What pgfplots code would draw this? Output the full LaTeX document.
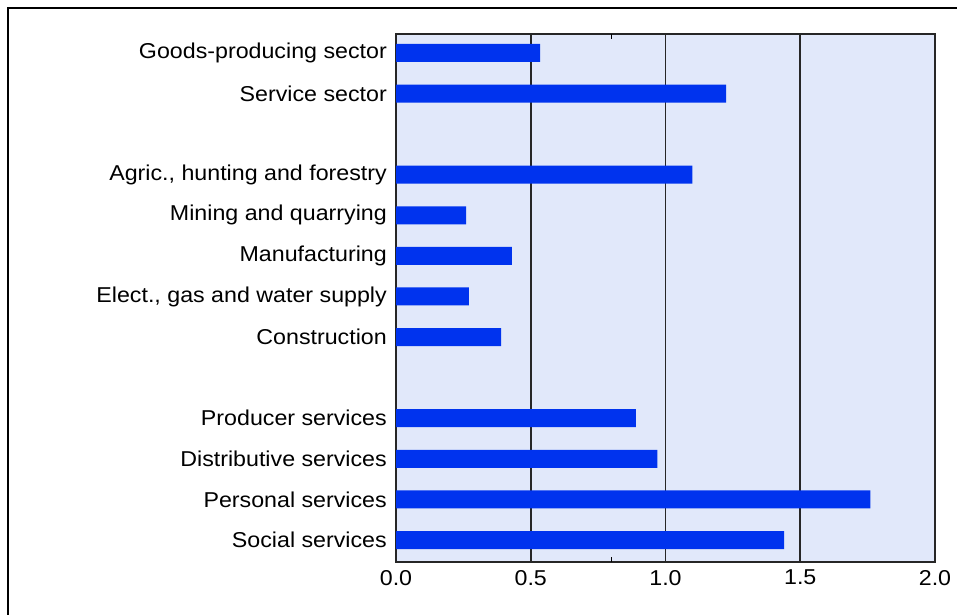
\documentclass[border=0pt]{standalone}
\usepackage{fontspec}
\setmainfont{Liberation Sans}[FakeStretch=1.08]
\usepackage{pgfplots}
\pgfplotsset{compat=1.18}
\definecolor{barblue}{RGB}{0,51,238}
\definecolor{panel}{RGB}{225,232,250}
\begin{document}
\begin{tikzpicture}
\useasboundingbox (0bp,0bp) rectangle (957bp,615bp);
\draw[line width=2.4bp] (8bp,0bp) -- (8bp,607bp) -- (957bp,607bp);
\begin{axis}[
  at={(396bp,53bp)}, anchor=south west,
  width=539bp, height=528bp, scale only axis,
  xmin=0, xmax=2, ymin=-0.542, ymax=12.468,
  axis background/.style={fill=panel},
  axis line style={black!85, line width=1.7bp},
  xbar, bar width=18bp,
  xtick={0,0.5,1,1.5,2},
  xmajorgrids, grid style={black!85, line width=1.7bp},
  major tick length=0pt,
  extra x ticks={0.8}, extra x tick labels={},
  extra x tick style={grid=none, major tick length=5bp, tick align=inside,
    tick style={black, line width=1.2bp}},
  xticklabel style={font=\fontsize{21.5bp}{24bp}\selectfont, inner sep=0pt, yshift=-8bp,
    /pgf/number format/.cd, fixed, fixed zerofill, precision=1, assume math mode=true},
  ytick={0,1,2,3,5,6,7,8,9,11,12},
  yticklabels={Social services, Personal services, Distributive services,
    Producer services, Construction, {Elect., gas and water supply},
    Manufacturing, Mining and quarrying, {Agric., hunting and forestry},
    Service sector, Goods-producing sector},
  yticklabel style={font=\fontsize{21.5bp}{24bp}\selectfont, inner sep=0pt, xshift=-9bp},
]
\addplot[fill=barblue, draw=none] coordinates {
  (1.44,0) (1.76,1) (0.97,2) (0.89,3)
  (0.39,5) (0.27,6) (0.43,7) (0.26,8) (1.10,9)
  (1.225,11) (0.535,12)
};
\end{axis}
\end{tikzpicture}
\end{document}
